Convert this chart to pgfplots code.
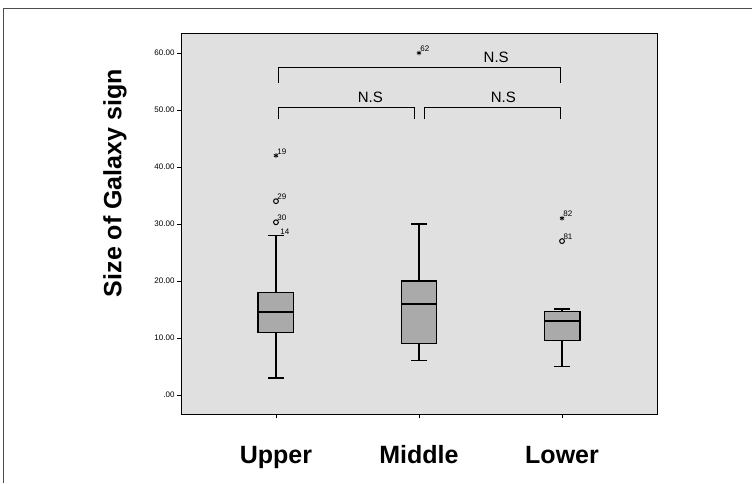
\documentclass[border=0pt]{standalone}
\usepackage{fontspec}
\setmainfont{Liberation Sans}
\usepackage{pgfplots}
\pgfplotsset{compat=1.18}
\usepgfplotslibrary{statistics}
\definecolor{bggray}{RGB}{224,224,224}
\definecolor{boxgray}{RGB}{170,170,170}

\begin{document}
\begin{tikzpicture}
\path[use as bounding box] (-181pt,-69pt) rectangle (571pt,414pt);
\draw[black!70, line width=1pt] (-177pt,-69pt) -- (-177pt,405pt) -- (571pt,405pt);
\begin{axis}[
  scale only axis,
  width=476pt, height=381pt,
  xmin=0.336, xmax=3.664,
  ymin=-3.33, ymax=63.5,
  axis background/.style={fill=bggray},
  axis line style={black, line width=0.9pt},
  xtick={1,2,3},
  xticklabels={Upper, Middle, Lower},
  x tick label style={font=\fontsize{25}{28}\selectfont\bfseries, text height=19pt, text depth=5pt, yshift=-23pt},
  ytick={0,10,20,30,40,50,60},
  yticklabels={.00,10.00,20.00,30.00,40.00,50.00,60.00},
  y tick label style={font=\fontsize{8}{10}\selectfont, xshift=1pt},
  tick align=outside,
  major tick length=4pt,
  tick style={black, line width=0.8pt},
  xtick pos=bottom, ytick pos=left,
  ylabel={Size of Galaxy sign},
  every axis y label/.style={at={(axis description cs:-0.1387,0.606)}, rotate=90, anchor=center,
    font=\fontsize{25}{28}\selectfont\bfseries},
  boxplot/draw direction=y,
  boxplot/every box/.style={draw=black, fill=boxgray, line width=1.2pt},
  boxplot/every whisker/.style={black, line width=1.2pt},
  boxplot/every median/.style={black, line width=2.2pt},
  clip=false,
]
% box plots
\addplot+[boxplot prepared={draw position=1, lower whisker=3, lower quartile=11,
  median=14.6, upper quartile=18, upper whisker=28, box extend=0.25, whisker extend=0.11},
  draw=black, mark=none]
  coordinates {};
\addplot+[boxplot prepared={draw position=2, lower whisker=6, lower quartile=9,
  median=16, upper quartile=20, upper whisker=30, box extend=0.25, whisker extend=0.11},
  draw=black, mark=none]
  coordinates {};
\addplot+[boxplot prepared={draw position=3, lower whisker=5, lower quartile=9.5,
  median=13, upper quartile=14.6, upper whisker=15.1, box extend=0.25, whisker extend=0.11},
  draw=black, mark=none]
  coordinates {};
% outliers (circles)
\addplot[only marks, mark=o, mark size=2.4pt, mark options={black, line width=1pt},
  nodes near coords, point meta=explicit symbolic,
  nodes near coords style={font=\fontsize{8}{9}\selectfont, anchor=south west, inner sep=0pt, xshift=1pt, yshift=1pt}]
  coordinates {(1,30.3)[30] (1,34)[29] (3,27)[81]};
% extremes (stars)
\addplot[only marks, mark=asterisk, mark size=2.4pt, mark options={black, line width=0.8pt},
  nodes near coords, point meta=explicit symbolic,
  nodes near coords style={font=\fontsize{8}{9}\selectfont, anchor=south west, inner sep=0pt, xshift=1pt, yshift=1pt}]
  coordinates {(1,42)[19] (2,60)[62] (3,31)[82]};
\node[font=\fontsize{8}{9}\selectfont, anchor=south west, inner sep=0pt] at (axis cs:1.03,28.2) {14};
% significance brackets
\addplot[black, line width=1pt] coordinates {(1.02,54.7) (1.02,57.4) (2.99,57.4) (2.99,54.7)};
\addplot[black, line width=1pt] coordinates {(1.02,48.4) (1.02,50.4) (1.97,50.4) (1.97,48.4)};
\addplot[black, line width=1pt] coordinates {(2.04,48.4) (2.04,50.4) (2.99,50.4) (2.99,48.4)};
\node[font=\fontsize{15}{17}\selectfont, anchor=south] at (axis cs:2.54,57.7) {N.S};
\node[font=\fontsize{15}{17}\selectfont, anchor=south] at (axis cs:1.66,50.7) {N.S};
\node[font=\fontsize{15}{17}\selectfont, anchor=south] at (axis cs:2.59,50.7) {N.S};
\end{axis}
\end{tikzpicture}
\end{document}
